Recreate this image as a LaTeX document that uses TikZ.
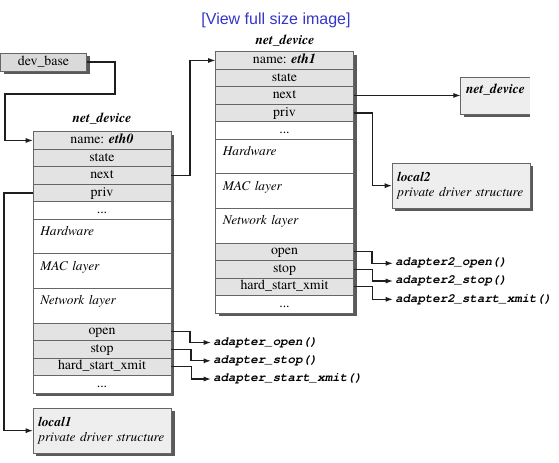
\documentclass[tikz,border=0pt]{standalone}
\usepackage{fontspec}
\setmainfont{TeX Gyre Termes}
\newfontfamily\monofont{TeX Gyre Cursor}
\newfontfamily\linkfont{Liberation Sans}
\usetikzlibrary{positioning,calc,arrows.meta,backgrounds}
\definecolor{rowgray}{HTML}{E3E3E3}
\definecolor{boxc}{HTML}{666666}
\definecolor{shadowc}{HTML}{5A5A5A}
\definecolor{localc}{HTML}{EEEEEE}
\definecolor{devc}{HTML}{DADADA}
\definecolor{linec}{HTML}{1E1E1E}
\definecolor{linkc}{HTML}{3535C8}
\newcommand{\rowfnt}{\fontsize{10.4}{12}\selectfont}
\newcommand{\itfnt}{\fontsize{10}{11}\selectfont\itshape}
\newcommand{\bifnt}{\fontsize{10.2}{11}\selectfont\bfseries\itshape}
\newcommand{\fnfnt}{\monofont\fontsize{9.3}{11}\selectfont\bfseries\itshape}
\begin{document}
\begin{tikzpicture}[x=0.75pt,y=-0.75pt,
  cell/.style={draw=boxc, line width=0.7pt, outer sep=0pt, inner sep=0pt,
    minimum width=103.5pt, minimum height=13.125pt, font=\rowfnt,
    text height=7pt, text depth=2.3pt},
  grayrow/.style={cell, fill=rowgray},
  whiterow/.style={cell, fill=white},
  layerrow/.style={cell, fill=white, minimum height=25.95pt, text width=92.5pt,
    inner xsep=5.5pt, align=left, text height=7pt, text depth=8.6pt, font=\itfnt},
  titlenode/.style={font=\bifnt, inner sep=1pt},
  localbox/.style={draw=boxc, line width=0.7pt, fill=localc, outer sep=0pt,
    inner xsep=4pt, inner ysep=0pt, text width=96pt, align=left,
    minimum height=34pt, font=\itfnt},
  fn/.style={font=\fnfnt, inner sep=1.5pt, anchor=west},
  conn/.style={draw=linec, line width=0.9pt, -{Latex[length=5.5pt,width=3.8pt]}}
]
\useasboundingbox (0,0) rectangle (559,462);

\node[font=\linkfont\fontsize{12}{14}\selectfont, text=linkc] (link) at (276,20) {[View full size image]};

% dev_base
\node[draw=boxc, line width=0.7pt, fill=devc, outer sep=0pt, inner sep=0pt,
  minimum width=64.5pt, minimum height=13.5pt, font=\rowfnt] (devbase) at (43.5,62) {dev\_base};

% eth0 structure
\node[titlenode] (e0title) at (102,119) {net\_device};
\node[grayrow, anchor=north] (e0name) at (102,131.7) {name: \textbf{\textit{eth0}}};
\node[grayrow, below=0pt of e0name] (e0state) {state};
\node[grayrow, below=0pt of e0state] (e0next) {next};
\node[grayrow, below=0pt of e0next] (e0priv) {priv};
\node[whiterow, below=0pt of e0priv] (e0dots) {...};
\node[layerrow, below=0pt of e0dots] (e0hw) {Hardware};
\node[layerrow, below=0pt of e0hw] (e0mac) {MAC layer};
\node[layerrow, below=0pt of e0mac] (e0net) {Network layer};
\node[grayrow, below=0pt of e0net] (e0open) {open};
\node[grayrow, below=0pt of e0open] (e0stop) {stop};
\node[grayrow, below=0pt of e0stop] (e0hard) {hard\_start\_xmit};
\node[whiterow, below=0pt of e0hard] (e0end) {...};

% eth1 structure
\node[titlenode] (e1title) at (285,41) {net\_device};
\node[grayrow, anchor=north] (e1name) at (284.5,51.7) {name: \textbf{\textit{eth1}}};
\node[grayrow, below=0pt of e1name] (e1state) {state};
\node[grayrow, below=0pt of e1state] (e1next) {next};
\node[grayrow, below=0pt of e1next] (e1priv) {priv};
\node[whiterow, below=0pt of e1priv] (e1dots) {...};
\node[layerrow, below=0pt of e1dots] (e1hw) {Hardware};
\node[layerrow, below=0pt of e1hw] (e1mac) {MAC layer};
\node[layerrow, below=0pt of e1mac] (e1net) {Network layer};
\node[grayrow, below=0pt of e1net] (e1open) {open};
\node[grayrow, below=0pt of e1open] (e1stop) {stop};
\node[grayrow, below=0pt of e1stop] (e1hard) {hard\_start\_xmit};
\node[whiterow, below=0pt of e1hard] (e1end) {...};

% next net_device (cut at right)
\node[fill=localc, outer sep=0pt, inner xsep=4pt, inner ysep=0pt, anchor=north west,
  text width=43.75pt, minimum height=27.75pt, align=left, font=\bifnt,
  text height=7pt, text depth=9.8pt] (nd) at (460.7,77) {net\_device};
\draw[boxc, line width=0.7pt] (nd.north east) -- (nd.north west) -- (nd.south west) -- (nd.south east);

% private structures
\node[localbox, anchor=north west] (local1) at (33,408) {\textbf{local1}\\private driver structure};
\node[localbox, anchor=north west, text width=95.5pt] (local2) at (392,163) {\textbf{local2}\\private driver structure};

% function names
\node[fn] (f0open) at (211,342.5) {adapter\_open()};
\node[fn] (f0stop) at (211,360.8) {adapter\_stop()};
\node[fn] (f0xmit) at (211,379) {adapter\_start\_xmit()};
\node[fn] (f1open) at (393,263.3) {adapter2\_open()};
\node[fn] (f1stop) at (393,281) {adapter2\_stop()};
\node[fn] (f1xmit) at (393,299.3) {adapter2\_start\_xmit()};

% shadows
\begin{scope}[on background layer]
  \fill[shadowc] ($(devbase.north west)+(3,3)$) rectangle ($(devbase.south east)+(3,3)$);
  \fill[shadowc] ($(e0name.north west)+(3,3)$) rectangle ($(e0end.south east)+(3,3)$);
  \fill[shadowc] ($(e1name.north west)+(3,3)$) rectangle ($(e1end.south east)+(3,3)$);
  \fill[shadowc] ($(local1.north west)+(3,3)$) rectangle ($(local1.south east)+(3,3)$);
  \fill[shadowc] ($(local2.north west)+(3,3)$) rectangle ($(local2.south east)+(3,3)$);
  \fill[shadowc] ($(nd.south west)+(3,0)$) rectangle ($(nd.south east)+(0,3)$);
\end{scope}

% connectors
\draw[conn] (devbase.east) -| (115,94) -- (5,94) |- (e0name.west);
\draw[conn] (e0next.east) -- ++(19,0) |- (e1name.west);
\draw[conn] (e0priv.west) -- ++(-29,0) |- (local1.west);
\draw[conn] (e1next.east) -- (e1next.east -| nd.west);
\draw[conn] (e1priv.east) -- ++(19,0) |- (local2.west);
\draw[conn] (e0open.east) -- ++(19,0) |- (f0open.west);
\draw[conn] (e0stop.east) -- ++(20,0) |- (f0stop.west);
\draw[conn] (e0hard.east) -- ++(20.5,0) |- (f0xmit.west);
\draw[conn] (e1open.east) -- ++(18.5,0) |- (f1open.west);
\draw[conn] (e1stop.east) -- ++(19,0) |- (f1stop.west);
\draw[conn] (e1hard.east) -- ++(19,0) |- (f1xmit.west);
\end{tikzpicture}
\end{document}
